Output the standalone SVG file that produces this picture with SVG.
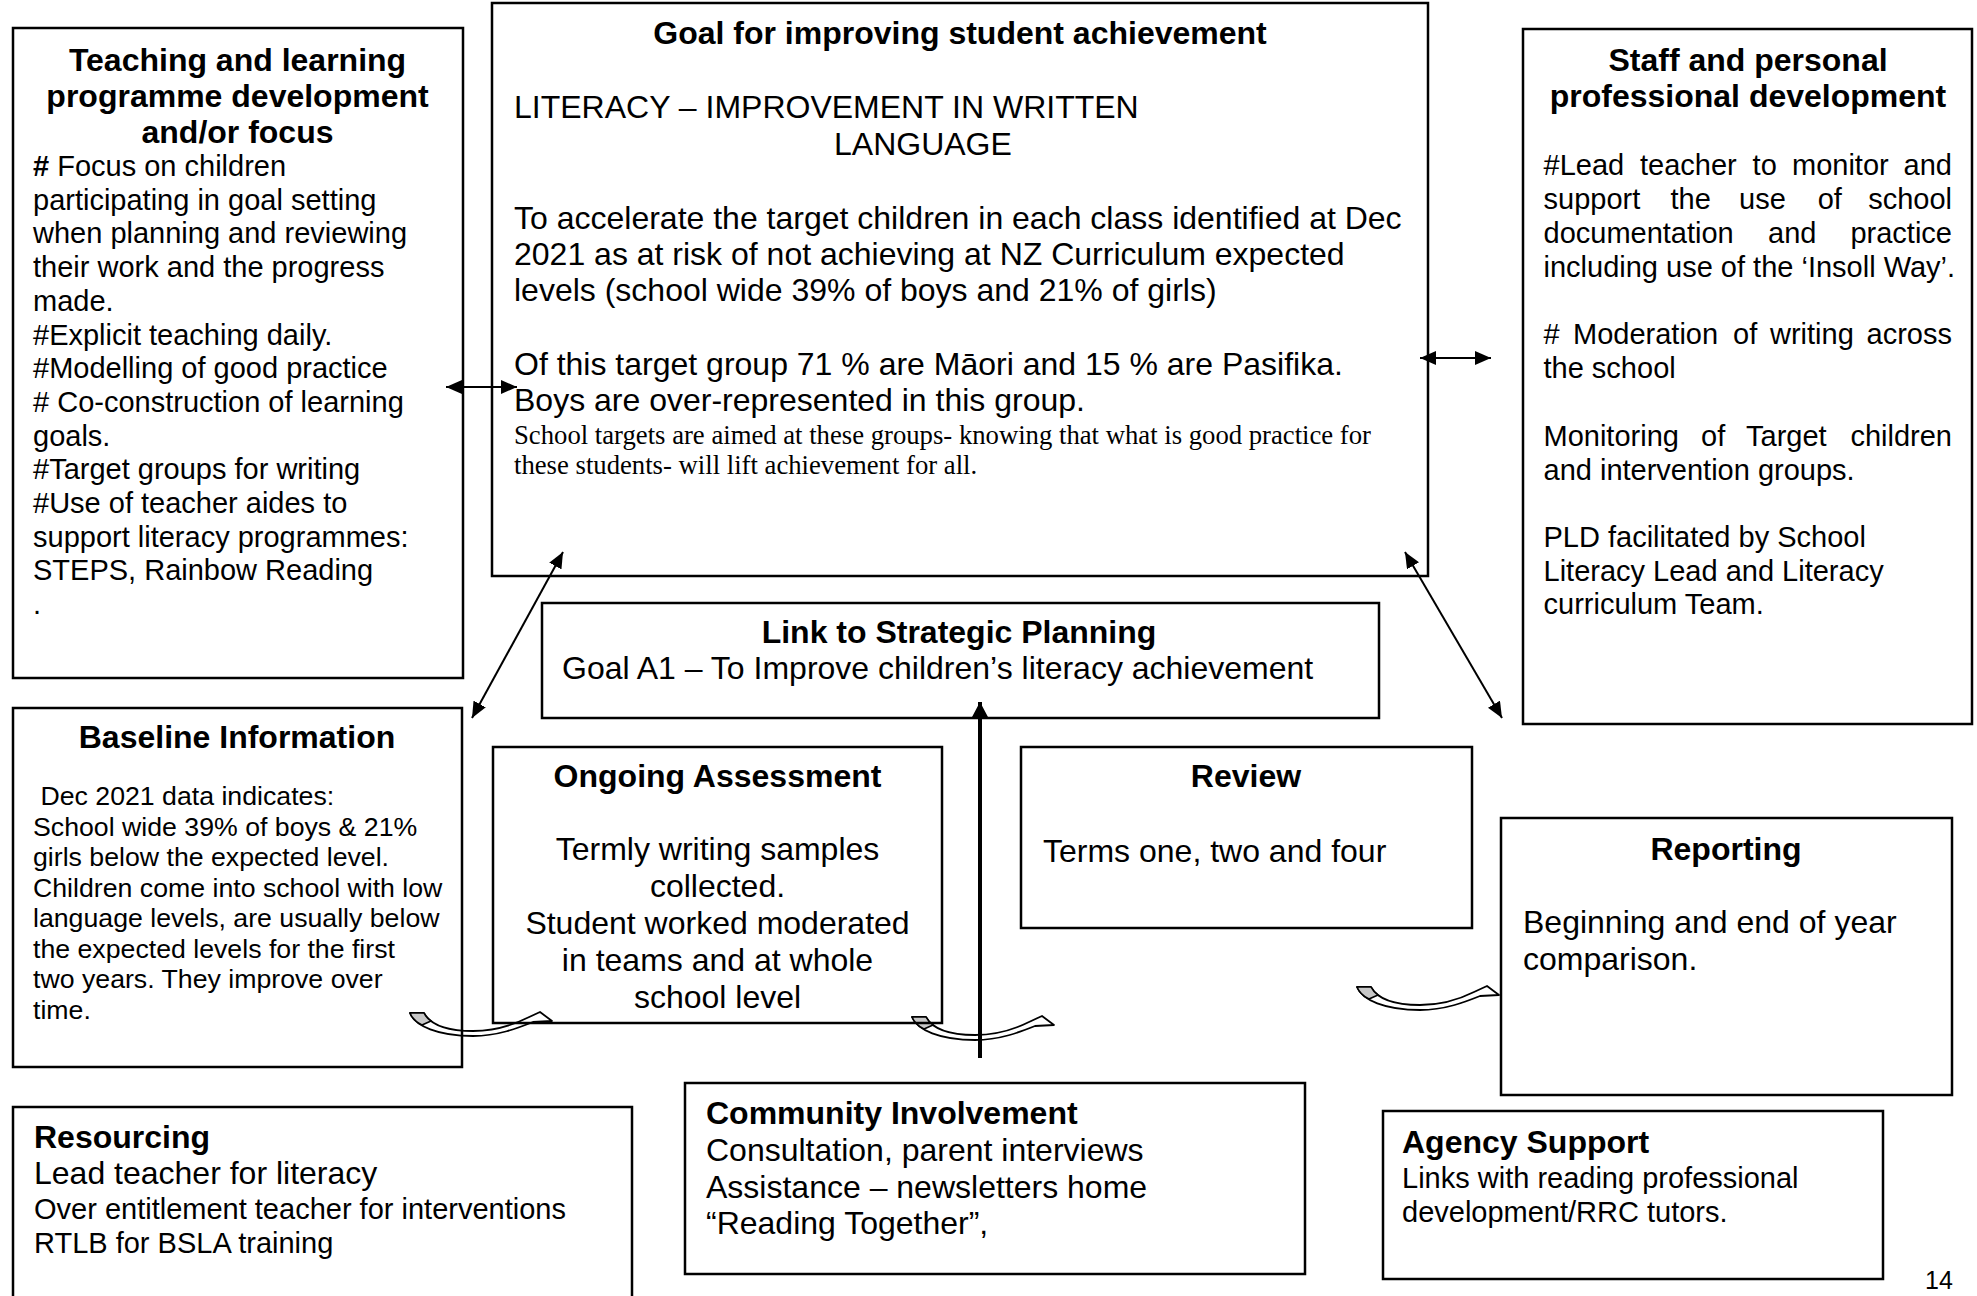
<svg xmlns="http://www.w3.org/2000/svg" width="1977" height="1296" viewBox="0 0 1977 1296">
<style>
text{font-family:"Liberation Sans",Arial,sans-serif;fill:#000}
.h{font-weight:bold;font-size:32px}
.b32{font-size:32px}
.b29{font-size:29px}
.b27{font-size:26.7px}
.tr{font-family:"Liberation Serif","Times New Roman",serif;font-size:26.7px}
.c{text-anchor:middle}
.e{text-anchor:end}
.box{fill:none;stroke:#000;stroke-width:2.5}
.ln{fill:none;stroke:#000;stroke-width:2}
.ca{fill:#fff;stroke:#000;stroke-width:1.8;stroke-linejoin:round}
.cg{fill:#c8c8c8;stroke:#000;stroke-width:1.6;stroke-linejoin:round}
</style>
<defs>
<marker id="ah" viewBox="0 0 16 14" refX="16" refY="7" markerWidth="16" markerHeight="14" markerUnits="userSpaceOnUse" orient="auto-start-reverse"><path d="M0,0 L16,7 L0,14 Z" fill="#000"/></marker>
<marker id="ahb" viewBox="0 0 15 16" refX="15" refY="8" markerWidth="15" markerHeight="16" markerUnits="userSpaceOnUse" orient="auto"><path d="M0,0 L15,8 L0,16 Z" fill="#000"/></marker>
<g id="curve">
<path class="ca" d="M0,0 C5,13 28,23 63,23 C88,23 108,15 123,9 L142,8 L130,-1 L117,5 C105,11 88,18 63,18 C36,18 20,11 14,0 Z"/>
<path class="cg" d="M0,0 L14,0 C16,4 18,6 21,8 L12,12 C6,9 2,5 0,0 Z"/>
</g>
</defs>
<rect width="1977" height="1296" fill="#fff"/>

<g id="curved-arrows">
<use href="#curve" x="410" y="1013"/>
<use href="#curve" x="912" y="1017"/>
<use href="#curve" x="1357" y="987"/>
</g>

<g id="teaching">
<rect class="box" x="13" y="28" width="450" height="650"/>
<text class="h c" x="237.5" y="71">Teaching and learning</text>
<text class="h c" x="237.5" y="107">programme development</text>
<text class="h c" x="237.5" y="143">and/or focus</text>
<text class="b29" x="33" y="176"><tspan font-weight="bold">#</tspan> Focus on children</text>
<text class="b29" x="33" y="209.7">participating in goal setting</text>
<text class="b29" x="33" y="243.4">when planning and reviewing</text>
<text class="b29" x="33" y="277.1">their work and the progress</text>
<text class="b29" x="33" y="310.8">made.</text>
<text class="b29" x="33" y="344.5">#Explicit teaching daily.</text>
<text class="b29" x="33" y="378.2">#Modelling of good practice</text>
<text class="b29" x="33" y="411.9"># Co-construction of learning</text>
<text class="b29" x="33" y="445.6">goals.</text>
<text class="b29" x="33" y="479.3">#Target groups for writing</text>
<text class="b29" x="33" y="513">#Use of teacher aides to</text>
<text class="b29" x="33" y="546.7">support literacy programmes:</text>
<text class="b29" x="33" y="580.4">STEPS, Rainbow Reading</text>
<text class="b29" x="33" y="614.1">.</text>
</g>

<g id="goal">
<rect class="box" x="492" y="3" width="936" height="573"/>
<text class="h c" x="960" y="44">Goal for improving student achievement</text>
<text class="b32" x="514" y="118">LITERACY – IMPROVEMENT IN WRITTEN</text>
<text class="b32" x="834" y="155">LANGUAGE</text>
<text class="b32" x="514" y="229">To accelerate the target children in each class identified at Dec</text>
<text class="b32" x="514" y="265">2021 as at risk of not achieving at NZ Curriculum expected</text>
<text class="b32" x="514" y="301">levels (school wide 39% of boys and 21% of girls)</text>
<text class="b32" x="514" y="375">Of this target group 71 % are Māori and 15 % are Pasifika.</text>
<text class="b32" x="514" y="411">Boys are over-represented in this group.</text>
<text class="tr" x="514" y="444">School targets are aimed at these groups- knowing that what is good practice for</text>
<text class="tr" x="514" y="474">these students- will lift achievement for all.</text>
</g>

<g id="staff">
<rect class="box" x="1523" y="29" width="449" height="695"/>
<text class="h c" x="1748" y="71">Staff and personal</text>
<text class="h c" x="1748" y="107">professional development</text>
<text class="b29" y="175"><tspan x="1543.5">#Lead</tspan><tspan x="1640">teacher</tspan><tspan x="1752.6">to</tspan><tspan x="1792">monitor</tspan><tspan x="1952" text-anchor="end">and</tspan></text>
<text class="b29" y="209"><tspan x="1543.5">support</tspan><tspan x="1670.5">the</tspan><tspan x="1739">use</tspan><tspan x="1817.7">of</tspan><tspan x="1952" text-anchor="end">school</tspan></text>
<text class="b29" y="243"><tspan x="1543.5">documentation</tspan><tspan x="1768">and</tspan><tspan x="1952" text-anchor="end">practice</tspan></text>
<text class="b29" x="1543.5" y="277">including use of the ‘Insoll Way’.</text>
<text class="b29" y="344"><tspan x="1543.5">#</tspan><tspan x="1573">Moderation</tspan><tspan x="1733">of</tspan><tspan x="1770">writing</tspan><tspan x="1952" text-anchor="end">across</tspan></text>
<text class="b29" x="1543.5" y="378">the school</text>
<text class="b29" y="446"><tspan x="1543.5">Monitoring</tspan><tspan x="1701">of</tspan><tspan x="1746">Target</tspan><tspan x="1952" text-anchor="end">children</tspan></text>
<text class="b29" x="1543.5" y="480">and intervention groups.</text>
<text class="b29" x="1543.5" y="547">PLD facilitated by School</text>
<text class="b29" x="1543.5" y="581">Literacy Lead and Literacy</text>
<text class="b29" x="1543.5" y="614">curriculum Team.</text>
</g>

<g id="link">
<rect class="box" x="542" y="603" width="837" height="115"/>
<text class="h c" x="959" y="643">Link to Strategic Planning</text>
<text class="b32" x="562" y="679">Goal A1 – To Improve children’s literacy achievement</text>
</g>

<g id="baseline">
<rect class="box" x="13" y="708" width="449" height="359"/>
<text class="h c" x="237" y="748">Baseline Information</text>
<text class="b27" x="33" y="805" xml:space="preserve"> Dec 2021 data indicates:</text>
<text class="b27" x="33" y="835.5">School wide 39% of boys &amp; 21%</text>
<text class="b27" x="33" y="866">girls below the expected level.</text>
<text class="b27" x="33" y="896.5">Children come into school with low</text>
<text class="b27" x="33" y="927">language levels, are usually below</text>
<text class="b27" x="33" y="957.5">the expected levels for the first</text>
<text class="b27" x="33" y="988">two years. They improve over</text>
<text class="b27" x="33" y="1018.5">time.</text>
</g>

<g id="ongoing">
<rect class="box" x="493" y="747" width="449" height="276"/>
<text class="h c" x="717.5" y="787">Ongoing Assessment</text>
<text class="b32 c" x="717.5" y="860">Termly writing samples</text>
<text class="b32 c" x="717.5" y="897">collected.</text>
<text class="b32 c" x="717.5" y="934">Student worked moderated</text>
<text class="b32 c" x="717.5" y="971">in teams and at whole</text>
<text class="b32 c" x="717.5" y="1008">school level</text>
</g>

<g id="review">
<rect class="box" x="1021" y="747" width="451" height="181"/>
<text class="h c" x="1246" y="787">Review</text>
<text class="b32" x="1043" y="862">Terms one, two and four</text>
</g>

<g id="reporting">
<rect class="box" x="1501" y="818" width="451" height="277"/>
<text class="h c" x="1726" y="860">Reporting</text>
<text class="b32" x="1523" y="933">Beginning and end of year</text>
<text class="b32" x="1523" y="970">comparison.</text>
</g>

<g id="resourcing">
<rect class="box" x="13" y="1107" width="619" height="220"/>
<text class="h" x="34" y="1148">Resourcing</text>
<text class="b32" x="34" y="1184">Lead teacher for literacy</text>
<text class="b29" x="34" y="1219">Over entitlement teacher for interventions</text>
<text class="b29" x="34" y="1253">RTLB for BSLA training</text>
</g>

<g id="community">
<rect class="box" x="685" y="1083" width="620" height="191"/>
<text class="h" x="706" y="1124">Community Involvement</text>
<text class="b32" x="706" y="1161">Consultation, parent interviews</text>
<text class="b32" x="706" y="1198">Assistance – newsletters home</text>
<text class="b32" x="706" y="1234">“Reading Together”,</text>
</g>

<g id="agency">
<rect class="box" x="1383" y="1111" width="500" height="168"/>
<text class="h" x="1402" y="1153">Agency Support</text>
<text class="b29" x="1402" y="1188">Links with reading professional</text>
<text class="b29" x="1402" y="1222">development/RRC tutors.</text>
</g>

<text x="1925" y="1289" font-size="25px">14</text>

<g id="connectors">
<line class="ln" x1="446" y1="387" x2="517" y2="387" marker-start="url(#ah)" marker-end="url(#ah)"/>
<line class="ln" x1="1420" y1="358" x2="1491" y2="358" marker-start="url(#ah)" marker-end="url(#ah)"/>
<line class="ln" x1="563" y1="552" x2="472" y2="718" marker-start="url(#ah)" marker-end="url(#ah)"/>
<line class="ln" x1="1405" y1="552" x2="1502" y2="718" marker-start="url(#ah)" marker-end="url(#ah)"/>
<line fill="none" stroke="#000" stroke-width="4" x1="980" y1="1058" x2="980" y2="702" marker-end="url(#ahb)"/>
</g>
</svg>
